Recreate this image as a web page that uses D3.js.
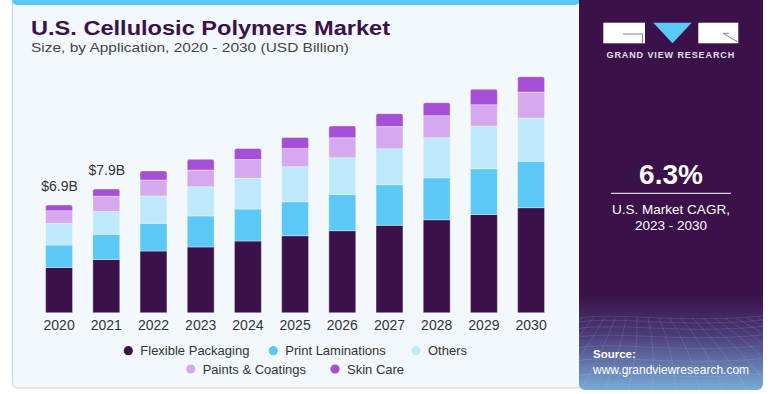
<!DOCTYPE html>
<html>
<head>
<meta charset="utf-8">
<style>
  body { margin: 0; background: #ffffff; }
  svg { display: block; font-family: "Liberation Sans", Arial, sans-serif; }
</style>
</head>
<body>
<svg id="chart" width="772" height="394"></svg>
<script src="https://d3js.org/d3.v7.min.js"></script>
<script>
    // data (USD billion)
    let years = ['2020', '2021', '2022', '2023', '2024', '2025', '2026', '2027', '2028', '2029', '2030']
    let seriesNames = ['Flexible Packaging', 'Print Laminations', 'Others', 'Paints & Coatings', 'Skin Care']
    let flexible = [2.89, 3.40, 3.94, 4.20, 4.58, 4.92, 5.24, 5.58, 5.94, 6.28, 6.71]
    let printLam = [1.43, 1.61, 1.77, 1.98, 2.04, 2.17, 2.32, 2.60, 2.68, 2.92, 2.96]
    let others = [1.39, 1.46, 1.75, 1.87, 1.98, 2.24, 2.34, 2.30, 2.56, 2.71, 2.77]
    let paints = [0.81, 0.97, 1.02, 1.07, 1.19, 1.17, 1.28, 1.41, 1.41, 1.38, 1.66]
    let skinCare = [0.36, 0.46, 0.58, 0.68, 0.70, 0.70, 0.75, 0.83, 0.83, 0.98, 0.98]
    let valueLabels = {'2020': '$6.9B', '2021': '$7.9B'}
    let colors = ['#3a1249', '#5bc8f5', '#bde9fa', '#d4a9ee', '#a54fd6']

    let svg = d3.select('#chart')
    let defs = svg.append('defs')

    // left card
    svg.append('rect')
        .attr('x', 12.5).attr('y', -6).attr('width', 575).attr('height', 394)
        .attr('rx', 5)
        .attr('fill', '#f3f8fc').attr('stroke', '#cfd3d8').attr('stroke-width', 1)
    svg.append('rect')
        .attr('x', 12).attr('y', -6).attr('width', 568).attr('height', 11)
        .attr('rx', 5)
        .attr('fill', '#5bc8f5')

    svg.append('text')
        .attr('x', 31).attr('y', 35.3)
        .attr('font-size', 20).attr('font-weight', 900)
        .attr('fill', '#3a1249')
        .attr('textLength', 359).attr('lengthAdjust', 'spacingAndGlyphs')
        .text('U.S. Cellulosic Polymers Market')
    svg.append('text')
        .attr('x', 31).attr('y', 52)
        .attr('font-size', 13.5)
        .attr('fill', '#444')
        .attr('textLength', 318).attr('lengthAdjust', 'spacingAndGlyphs')
        .text('Size, by Application, 2020 - 2030 (USD Billion)')

    // scales
    let x = d3.scaleBand().domain(years).range([35.5, 554.7]).paddingInner(0.43).paddingOuter(0.215)
    let y = d3.scaleLinear().domain([0, 16]).range([312.7, 62.3])

    let rows = years.map((yr, i) => ({
        year: yr,
        'Flexible Packaging': flexible[i],
        'Print Laminations': printLam[i],
        'Others': others[i],
        'Paints & Coatings': paints[i],
        'Skin Care': skinCare[i]
    }))
    let stacked = d3.stack().keys(seriesNames)(rows)

    let groups = svg.append('g').selectAll('g')
        .data(stacked)
        .join('g')
        .attr('fill', (d, i) => colors[i])

    groups.each(function (layer, li) {
        let top = li === seriesNames.length - 1
        d3.select(this).selectAll('path')
            .data(layer)
            .join('path')
            .attr('stroke', 'rgba(255,255,255,0.45)')
            .attr('stroke-width', 0.8)
            .attr('d', d => {
                let x0 = x(d.data.year), w = x.bandwidth()
                let y0 = y(d[1]), y1 = y(d[0])
                let r = top ? 2 : 0
                return `M${x0},${y1}V${y0 + r}Q${x0},${y0} ${x0 + r},${y0}H${x0 + w - r}Q${x0 + w},${y0} ${x0 + w},${y0 + r}V${y1}Z`
            })
    })

    // totals labels
    let totals = rows.map(r => seriesNames.reduce((s, k) => s + r[k], 0))
    svg.append('g').selectAll('text')
        .data(years.filter(yr => valueLabels[yr]))
        .join('text')
        .attr('x', d => x(d) + x.bandwidth() / 2 + 0.5)
        .attr('y', d => y(totals[years.indexOf(d)]) - 14.3)
        .attr('text-anchor', 'middle')
        .attr('font-size', 14)
        .attr('fill', '#333')
        .text(d => valueLabels[d])

    // x axis
    let xAxis = svg.append('g')
        .attr('transform', 'translate(0,313)')
        .call(d3.axisBottom(x).tickSize(0).tickPadding(4))
    xAxis.select('.domain').remove()
    xAxis.selectAll('text')
        .attr('font-size', 14)
        .attr('font-family', '"Liberation Sans", Arial, sans-serif')
        .attr('fill', '#333')
        .attr('dy', '0.95em')

    // legend
    let legendPos = [[128.3, 350.7], [273.3, 350.7], [416, 350.7], [190.7, 369], [335, 369]]
    let legend = svg.append('g').selectAll('g')
        .data(seriesNames)
        .join('g')
        .attr('transform', (d, i) => `translate(${legendPos[i][0]},${legendPos[i][1]})`)
    legend.append('circle').attr('r', 4.6).attr('fill', (d, i) => colors[i])
    legend.append('text')
        .attr('x', 12).attr('y', 4.6)
        .attr('font-size', 13)
        .attr('fill', '#333')
        .text(d => d)

    // right panel
    let grad = defs.append('linearGradient').attr('id', 'panelGrad')
        .attr('x1', 0).attr('y1', 0).attr('x2', 0).attr('y2', 1)
    grad.append('stop').attr('offset', '0%').attr('stop-color', '#3a1249')
    grad.append('stop').attr('offset', '76%').attr('stop-color', '#3a1249')
    grad.append('stop').attr('offset', '86%').attr('stop-color', '#4a3a78')
    grad.append('stop').attr('offset', '100%').attr('stop-color', '#78acd9')

    let clip = defs.append('clipPath').attr('id', 'panelClip')
    clip.append('rect').attr('x', 579).attr('y', -8).attr('width', 184).attr('height', 398).attr('rx', 6)

    let panel = svg.append('g').attr('clip-path', 'url(#panelClip)')
    panel.append('rect')
        .attr('x', 579).attr('y', -8).attr('width', 184).attr('height', 398)
        .attr('fill', 'url(#panelGrad)')

    // mesh in the bottom of the panel
    let mesh = panel.append('g').attr('fill', 'none').attr('stroke', 'rgba(200,225,255,0.2)').attr('stroke-width', 0.7)
    for (let k = 0; k < 9; k++) {
        let yy = 318 + k * k * 1.1 + k * 3
        mesh.append('path').attr('d', `M579,${yy}C620,${yy - 6} 680,${yy + 6} 763,${yy - 2}`)
    }
    for (let k = 0; k < 22; k++) {
        let xt = 560 + k * 11
        let xb = 460 + k * 24
        mesh.append('path').attr('d', `M${xt},318Q${(xt + xb) / 2 + 6},350 ${xb},392`)
    }

    // logo
    let logo = svg.append('g')
    logo.append('rect').attr('x', 603.3).attr('y', 22.7).attr('width', 41.7).attr('height', 20.6).attr('fill', '#fff')
    logo.append('path').attr('d', 'M653.3,22.7H691.7L672.5,43.3Z').attr('fill', '#5bc8f5')
    logo.append('rect').attr('x', 698.3).attr('y', 22.7).attr('width', 40).attr('height', 20.6).attr('fill', '#fff')
    logo.append('path').attr('d', 'M623,34H642.5V43.3').attr('fill', 'none').attr('stroke', '#8a7a9a').attr('stroke-width', 1)
    logo.append('path').attr('d', 'M723,33.3H729M723,33.3L737,41.5').attr('fill', 'none').attr('stroke', '#8a7a9a').attr('stroke-width', 1)
    logo.append('text')
        .attr('x', 670.8).attr('y', 58.3)
        .attr('text-anchor', 'middle')
        .attr('font-size', 9).attr('font-weight', 700)
        .attr('letter-spacing', 0.9)
        .attr('fill', '#e4e0ea')
        .text('GRAND VIEW RESEARCH')

    svg.append('text')
        .attr('x', 671).attr('y', 183.5)
        .attr('text-anchor', 'middle')
        .attr('font-size', 28).attr('font-weight', 700)
        .attr('fill', '#fff')
        .text('6.3%')
    svg.append('line')
        .attr('x1', 611).attr('x2', 731).attr('y1', 193.3).attr('y2', 193.3)
        .attr('stroke', '#d8d0e0').attr('stroke-width', 1.2)
    svg.append('text')
        .attr('x', 671).attr('y', 214)
        .attr('text-anchor', 'middle')
        .attr('font-size', 13.5).attr('fill', '#fff')
        .text('U.S. Market CAGR,')
    svg.append('text')
        .attr('x', 671).attr('y', 230)
        .attr('text-anchor', 'middle')
        .attr('font-size', 13.5).attr('fill', '#fff')
        .text('2023 - 2030')

    svg.append('text')
        .attr('x', 593).attr('y', 358.3)
        .attr('font-size', 11.5).attr('font-weight', 700)
        .attr('fill', '#fff')
        .text('Source:')
    svg.append('text')
        .attr('x', 593).attr('y', 373.5)
        .attr('font-size', 12).attr('fill', '#fff')
        .text('www.grandviewresearch.com')
</script>
</body>
</html>
